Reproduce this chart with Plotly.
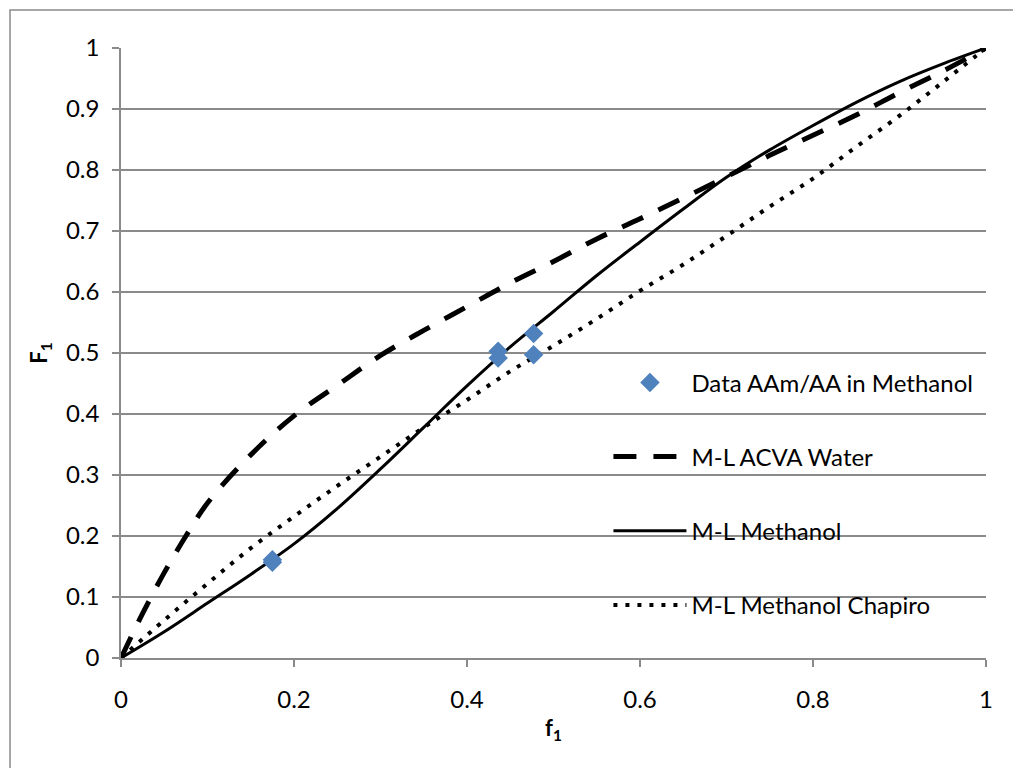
import plotly.graph_objects as go

# Experimental data (AAm/AA in methanol)
data_f1 = [0.175, 0.175, 0.436, 0.436, 0.477, 0.477]
data_F1 = [0.161, 0.157, 0.503, 0.492, 0.532, 0.497]

# M-L ACVA Water (dashed)
acva_f1 = [0, 0.025, 0.05, 0.075, 0.1, 0.15, 0.2, 0.25, 0.3, 0.35, 0.4, 0.45, 0.5,
           0.55, 0.6, 0.65, 0.7, 0.75, 0.8, 0.85, 0.9, 0.95, 1]
acva_F1 = [0, 0.073, 0.14, 0.20, 0.254, 0.333, 0.397, 0.447, 0.496, 0.537, 0.576, 0.615, 0.65,
           0.687, 0.72, 0.754, 0.789, 0.824, 0.857, 0.89, 0.927, 0.962, 1]

# M-L Methanol (solid)
meth_f1 = [0, 0.05, 0.1, 0.15, 0.2, 0.25, 0.3, 0.35, 0.4, 0.45, 0.5,
           0.55, 0.6, 0.65, 0.7, 0.75, 0.8, 0.85, 0.9, 0.95, 1]
meth_F1 = [0, 0.043, 0.09, 0.137, 0.187, 0.245, 0.31, 0.378, 0.446, 0.51, 0.568,
           0.627, 0.682, 0.736, 0.788, 0.833, 0.873, 0.911, 0.945, 0.974, 1]

# M-L Methanol Chapiro (dotted)
chap_f1 = [0, 0.05, 0.1, 0.15, 0.2, 0.25, 0.3, 0.35, 0.4, 0.45, 0.5,
           0.55, 0.6, 0.65, 0.7, 0.75, 0.8, 0.85, 0.9, 0.95, 1]
chap_F1 = [0, 0.062, 0.122, 0.18, 0.232, 0.282, 0.33, 0.378, 0.423, 0.47, 0.512,
           0.556, 0.602, 0.645, 0.692, 0.74, 0.786, 0.838, 0.889, 0.944, 1]

x_ticks = [0, 0.2, 0.4, 0.6, 0.8, 1]
x_tick_text = ["0", "0.2", "0.4", "0.6", "0.8", "1"]
y_ticks = [0, 0.1, 0.2, 0.3, 0.4, 0.5, 0.6, 0.7, 0.8, 0.9, 1]
y_tick_text = ["0", "0.1", "0.2", "0.3", "0.4", "0.5", "0.6", "0.7", "0.8", "0.9", "1"]

FONT = "Lato, Carlito, Calibri, sans-serif"
GRID = "#8a8a8a"

fig = go.Figure()
fig.add_trace(go.Scatter(x=acva_f1, y=acva_F1, mode="lines", name="M-L ACVA Water",
                         legendgroup="b", legendrank=2, line_shape="spline",
                         line=dict(color="black", width=5, dash="23px,17px")))
fig.add_trace(go.Scatter(x=meth_f1, y=meth_F1, mode="lines", name="M-L Methanol",
                         legendgroup="c", legendrank=3, line_shape="spline",
                         line=dict(color="black", width=3)))
fig.add_trace(go.Scatter(x=chap_f1, y=chap_F1, mode="lines", name="M-L Methanol Chapiro",
                         legendgroup="d", legendrank=4, line_shape="spline",
                         line=dict(color="black", width=4, dash="4px,8px")))
fig.add_trace(go.Scatter(x=data_f1, y=data_F1, mode="markers", name="Data AAm/AA in Methanol",
                         legendgroup="a", legendrank=1,
                         marker=dict(symbol="diamond", size=15, color="#4F81BD")))

fig.update_layout(
    width=1021, height=768,
    margin=dict(l=113, r=43, t=40, b=118),
    paper_bgcolor="white", plot_bgcolor="white",
    font=dict(family=FONT, size=24, color="black"),
    showlegend=True,
    legend=dict(x=0.5635, y=0.488, xanchor="left", yanchor="top",
                bgcolor="rgba(0,0,0,0)", tracegroupgap=40, itemwidth=73,
                font=dict(family=FONT, size=24, color="black")),
    xaxis=dict(range=[0, 1], tickvals=x_ticks, ticktext=x_tick_text,
               showgrid=False, zeroline=False, showline=True, linecolor=GRID, linewidth=1.5,
               ticks="outside", ticklen=7, tickcolor=GRID, tickwidth=1.5,
               ticklabelstandoff=12,
               title=dict(text="<b>f<sub>1</sub></b>", standoff=9, font=dict(size=22))),
    yaxis=dict(range=[0, 1], tickvals=y_ticks, ticktext=y_tick_text,
               showgrid=True, gridcolor=GRID, gridwidth=1.5, zeroline=False,
               showline=True, linecolor=GRID, linewidth=1.5,
               ticks="outside", ticklen=7, tickcolor=GRID, tickwidth=1.5,
               ticklabelstandoff=8,
               title=dict(text="<b>F<sub>1</sub></b>", standoff=12, font=dict(size=22))),
    shapes=[dict(type="rect", xref="paper", yref="paper",
                 x0=-0.1283, x1=1.06, y0=-0.2, y1=1.0623,
                 line=dict(color=GRID, width=1.5), layer="below")],
)

fig.write_html("out.html")
